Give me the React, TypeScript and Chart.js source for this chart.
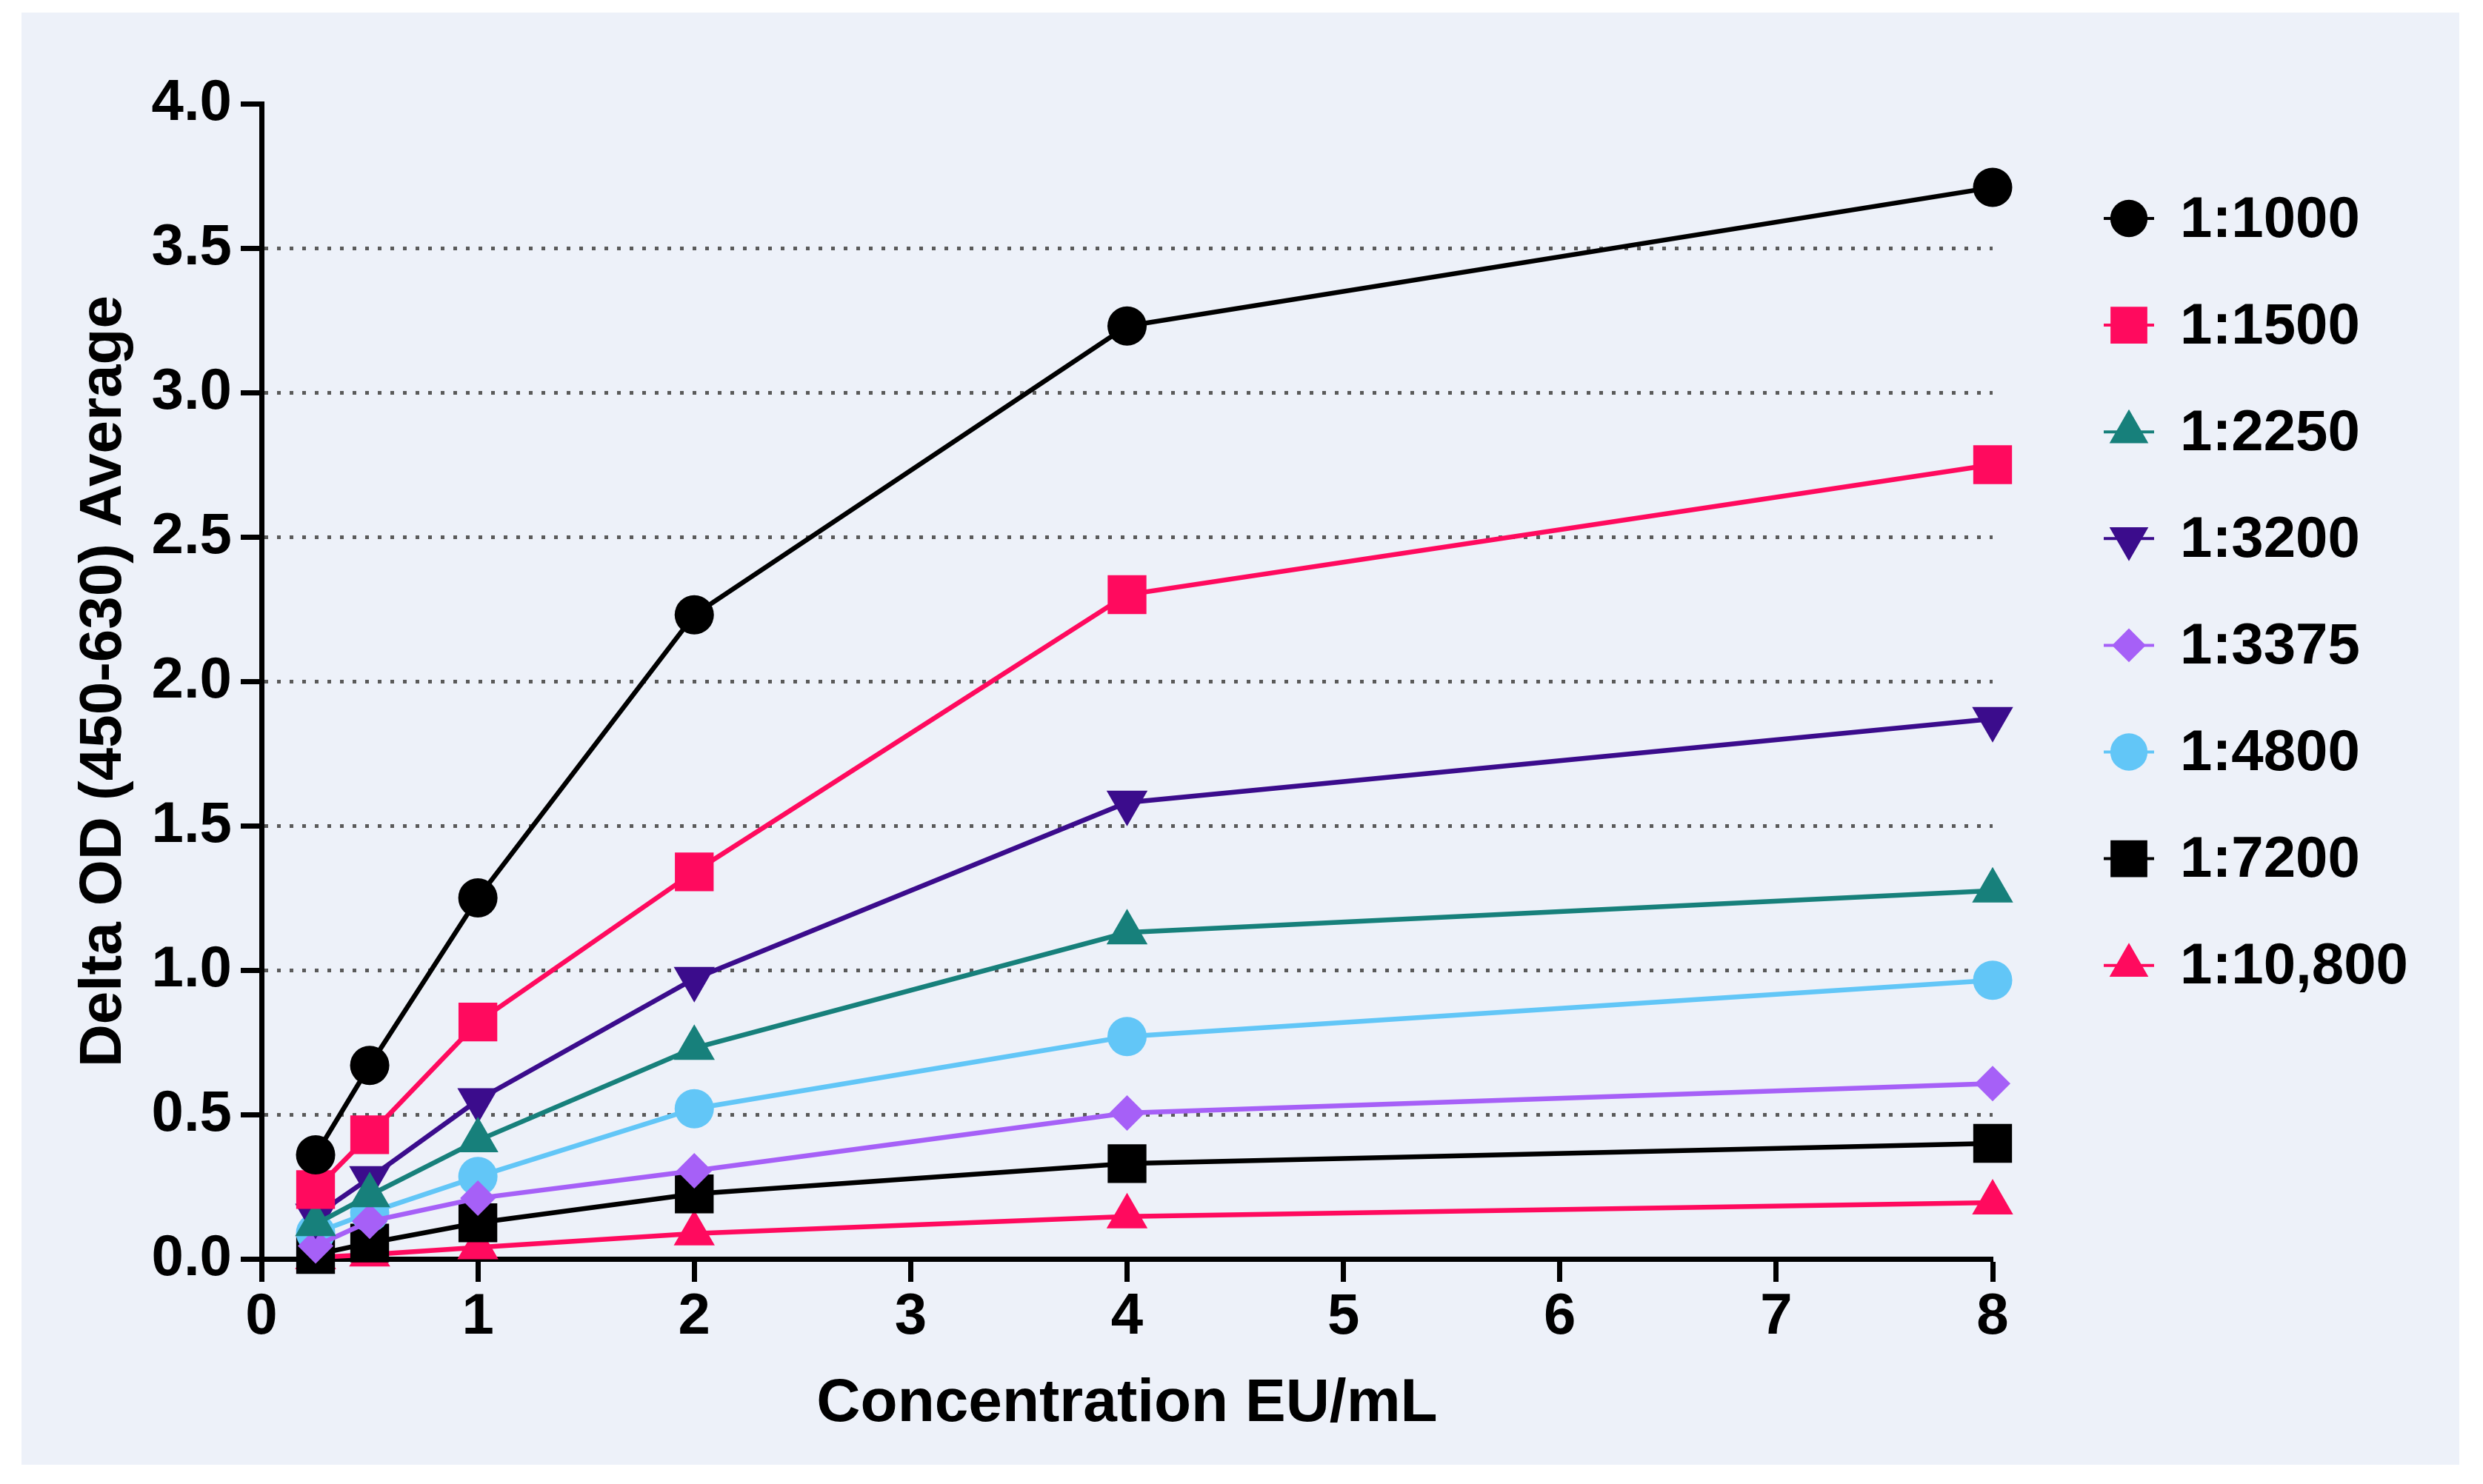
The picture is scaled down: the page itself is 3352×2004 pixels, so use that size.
import React, { useEffect, useRef } from 'react';
import { Chart, registerables } from 'chart.js';

Chart.register(...registerables);

// ---- data ----
const concentrations = [0.25, 0.5, 1, 2, 4, 8];
const seriesLabels = ['1:1000', '1:1500', '1:2250', '1:3200', '1:3375', '1:4800', '1:7200', '1:10,800'];
const d1000 = [0.36, 0.67, 1.25, 2.23, 3.23, 3.71];
const d1500 = [0.24, 0.43, 0.82, 1.34, 2.3, 2.75];
const d2250 = [0.12, 0.22, 0.41, 0.73, 1.13, 1.275];
const d3200 = [0.15, 0.28, 0.55, 0.97, 1.58, 1.87];
const d3375 = [0.045, 0.13, 0.21, 0.305, 0.505, 0.607];
const d4800 = [0.09, 0.16, 0.285, 0.52, 0.77, 0.965];
const d7200 = [0.015, 0.055, 0.125, 0.225, 0.33, 0.4];
const d10800 = [0.005, 0.015, 0.04, 0.088, 0.147, 0.195];
const seriesValues = [d1000, d1500, d2250, d3200, d3375, d4800, d7200, d10800];
const yTitle = 'Delta OD (450-630) Average';
const xTitle = 'Concentration EU/mL';

// ---- styles ----
const seriesColors = ['#000000', '#ff0a5e', '#17807b', '#3b0c8c', '#a660f7', '#62c6f7', '#000000', '#ff0a5e'];
const seriesShapes = ['circle', 'rect', 'triangle', 'triangle', 'rectRot', 'circle', 'rect', 'triangle'];
const seriesRotation = [0, 0, 0, 180, 0, 0, 0, 0];
const seriesRadius = [26.5, 37, 32, 32, 24, 26.5, 37, 32];

const FONT = "'Liberation Sans', Arial, Helvetica, sans-serif";

function drawMarker(ctx: CanvasRenderingContext2D, shape: string, x: number, y: number, r: number, rotDeg: number) {
  ctx.beginPath();
  if (shape === 'circle') {
    ctx.arc(x, y, r, 0, Math.PI * 2);
  } else if (shape === 'rect') {
    const s = Math.SQRT1_2 * r;
    ctx.rect(x - s, y - s, 2 * s, 2 * s);
  } else if (shape === 'rectRot') {
    ctx.moveTo(x, y - r);
    ctx.lineTo(x + r, y);
    ctx.lineTo(x, y + r);
    ctx.lineTo(x - r, y);
    ctx.closePath();
  } else if (shape === 'triangle') {
    let rad = (rotDeg * Math.PI) / 180;
    ctx.moveTo(x + Math.sin(rad) * r, y - Math.cos(rad) * r);
    rad += (2 * Math.PI) / 3;
    ctx.lineTo(x + Math.sin(rad) * r, y - Math.cos(rad) * r);
    rad += (2 * Math.PI) / 3;
    ctx.lineTo(x + Math.sin(rad) * r, y - Math.cos(rad) * r);
    ctx.closePath();
  }
  ctx.fill();
}

const bgPlugin = {
  id: 'panelBg',
  beforeDraw(chart: any) {
    const { ctx, width, height } = chart;
    ctx.save();
    ctx.fillStyle = '#ffffff';
    ctx.fillRect(0, 0, width, height);
    ctx.fillStyle = '#edf1f9';
    ctx.fillRect(29, 17, 3291, 1961);
    ctx.restore();
  },
};

const legendPlugin = {
  id: 'sideLegend',
  afterDraw(chart: any) {
    const { ctx } = chart;
    const x0 = 2874;
    const y0 = 295;
    const step = 144.1;
    ctx.save();
    chart.data.datasets.forEach((ds: any, i: number) => {
      const y = y0 + i * step;
      ctx.strokeStyle = seriesColors[i];
      ctx.lineWidth = 4;
      ctx.beginPath();
      ctx.moveTo(x0 - 34, y);
      ctx.lineTo(x0 + 34, y);
      ctx.stroke();
      ctx.fillStyle = seriesColors[i];
      drawMarker(ctx, seriesShapes[i], x0, y, seriesRadius[i] * 0.95, seriesRotation[i]);
      ctx.fillStyle = '#000000';
      ctx.font = `bold 78px ${FONT}`;
      ctx.textAlign = 'left';
      ctx.textBaseline = 'middle';
      ctx.fillText(ds.label, 2943, y + 3);
    });
    ctx.restore();
  },
};

export default function App() {
  const canvasRef = useRef<HTMLCanvasElement | null>(null);

  useEffect(() => {
    const canvas = canvasRef.current;
    if (!canvas) return;
    const datasets = seriesLabels.map((label, i) => ({
      label,
      data: concentrations.map((x, j) => ({ x, y: seriesValues[i][j] })),
      borderColor: seriesColors[i],
      backgroundColor: seriesColors[i],
      borderWidth: 6.5,
      tension: 0,
      pointStyle: seriesShapes[i] as any,
      pointRotation: seriesRotation[i],
      pointRadius: seriesRadius[i],
      pointBackgroundColor: seriesColors[i],
      pointBorderWidth: 0,
      pointBorderColor: seriesColors[i],
      clip: false as any,
    }));

    const chart = new Chart(canvas, {
      type: 'line',
      data: { datasets },
      options: {
        animation: false,
        responsive: false,
        devicePixelRatio: 1,
        events: [],
        layout: { padding: { top: 140, right: 662, bottom: 0, left: 0 } },
        plugins: {
          legend: { display: false },
          tooltip: { enabled: false },
        },
        scales: {
          x: {
            type: 'linear',
            min: 0,
            max: 8,
            afterFit: (scale: any) => {
              scale.height = 304;
            },
            ticks: {
              stepSize: 1,
              color: '#000000',
              padding: 2,
              font: { family: FONT, size: 78, weight: 'bold' },
              callback: (v: any) => String(v),
            },
            grid: {
              drawOnChartArea: false,
              drawTicks: true,
              tickLength: 31,
              tickWidth: 7,
              tickColor: '#000000',
              color: '#000000',
            },
            border: { display: true, color: '#000000', width: 7 },
            title: {
              display: true,
              text: xTitle,
              color: '#000000',
              font: { family: FONT, size: 82, weight: 'bold' },
              padding: { top: 0, bottom: 58 },
            },
          },
          y: {
            type: 'linear',
            min: 0,
            max: 4,
            afterFit: (scale: any) => {
              scale.width = 353;
            },
            ticks: {
              stepSize: 0.5,
              color: '#000000',
              padding: 12,
              font: { family: FONT, size: 78, weight: 'bold' },
              callback: (v: any) => Number(v).toFixed(1),
            },
            grid: {
              drawOnChartArea: true,
              drawTicks: true,
              tickLength: 28,
              tickWidth: 7,
              tickColor: '#000000',
              lineWidth: 5,
              color: (c: any) =>
                c.tick && (c.tick.value === 0 || c.tick.value === 4) ? 'rgba(0,0,0,0)' : '#5a5a5a',
            },
            border: { display: true, color: '#000000', width: 7, dash: [5, 12] },
            title: {
              display: true,
              text: yTitle,
              color: '#000000',
              font: { family: FONT, size: 80, weight: 'bold' },
              padding: { top: 93, bottom: 0 },
            },
          },
        },
      },
      plugins: [bgPlugin, legendPlugin],
    });

    return () => {
      chart.destroy();
    };
  }, []);

  return (
    <div style={{ position: 'fixed', left: 0, top: 0, width: 3352, height: 2004, background: '#ffffff' }}>
      <canvas ref={canvasRef} width={3352} height={2004} style={{ display: 'block', width: 3352, height: 2004 }} />
    </div>
  );
}
